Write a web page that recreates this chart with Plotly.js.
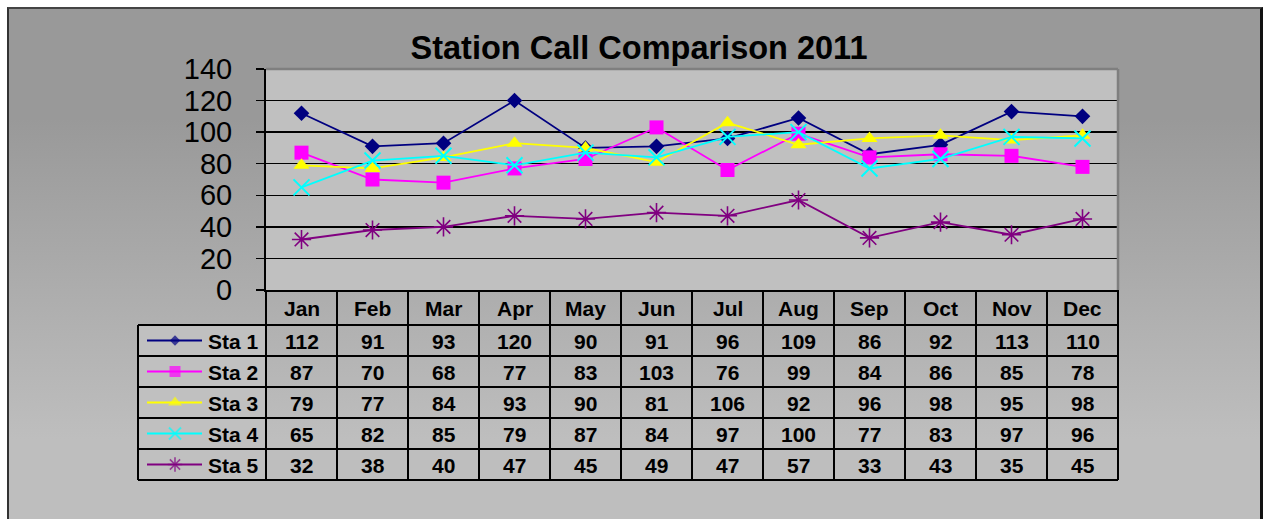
<!DOCTYPE html>
<html>
<head>
<meta charset="utf-8">
<script src="https://cdn.plot.ly/plotly-3.0.1.min.js"></script>
<style>
  html, body { margin: 0; padding: 0; background: #ffffff; }
  #wrap { position: relative; width: 1264px; height: 519px; overflow: hidden; background: #ffffff; }
  #frame { position: absolute; left: 7px; top: 7px; width: 1251px; height: 530px;
           border-left: 2px solid #333; border-top: 2px solid #444; border-right: 3px solid #111;
           background: linear-gradient(to bottom, #999999 0px, #999999 110px, #bebebe 430px, #bebebe 530px); }
  #chart { position: absolute; left: 0; top: 0; width: 1264px; height: 519px; }
</style>
</head>
<body>
<div id="wrap"><div id="frame"></div><div id="chart"></div></div>
<script>
const months = ["Jan","Feb","Mar","Apr","May","Jun","Jul","Aug","Sep","Oct","Nov","Dec"];
const seriesNames = ["Sta 1","Sta 2","Sta 3","Sta 4","Sta 5"];
const sta1 = [112, 91, 93, 120, 90, 91, 96, 109, 86, 92, 113, 110];
const sta2 = [87, 70, 68, 77, 83, 103, 76, 99, 84, 86, 85, 78];
const sta3 = [79, 77, 84, 93, 90, 81, 106, 92, 96, 98, 95, 98];
const sta4 = [65, 82, 85, 79, 87, 84, 97, 100, 77, 83, 97, 96];
const sta5 = [32, 38, 40, 47, 45, 49, 47, 57, 33, 43, 35, 45];
const yTicks = [0, 20, 40, 60, 80, 100, 120, 140];

const allSeries = [sta1, sta2, sta3, sta4, sta5];
const styles = [
  {color: "#000080", symbol: "diamond", size: 12, lsize: 8},
  {color: "#FF00FF", symbol: "square", size: 14, lsize: 11},
  {color: "#FFFF00", symbol: "triangle-up", size: 14, lsize: 12},
  {color: "#00FFFF", symbol: "x-thin-open", size: 16, lsize: 12, lw: 2},
  {color: "#800080", symbol: "asterisk-open", size: 16, lsize: 12, lw: 1.6}
];

// pixel geometry (layout only)
const W = 1264, H = 519;
const plotL = 266, plotR = 1118, plotT = 69, plotB = 290;
const headB = 325, rowH = 31, legL = 138;
const nRows = allSeries.length;
const tableB = headB + rowH * nRows;
const py = p => (H - p) / H;
const px = p => p / W;
const font = "'Liberation Sans', Arial, sans-serif";

const traces = [];
allSeries.forEach((vals, i) => {
  const st = styles[i];
  traces.push({
    type: "scatter", mode: "lines+markers", name: seriesNames[i],
    x: months, y: vals, xaxis: "x", yaxis: "y",
    line: {color: st.color, width: 1.8},
    marker: {color: st.color, symbol: st.symbol, size: st.size, line: {color: st.color, width: st.lw || 0}},
    cliponaxis: false, showlegend: false, hoverinfo: "skip"
  });
  // legend glyph in the data table
  const cy = headB + rowH * (i + 0.5);
  traces.push({
    type: "scatter", mode: "lines+markers", x: [147, 175, 202], y: [cy, cy, cy],
    xaxis: "x2", yaxis: "y2",
    line: {color: st.color, width: 1.8},
    marker: {color: st.color, symbol: st.symbol, size: [0, st.lsize, 0], line: {color: st.color, width: st.lw || 0}},
    showlegend: false, hoverinfo: "skip", cliponaxis: false
  });
});

const shapes = [];
const lineStyle = {color: "#000000", width: 2};
// plot area top/right border (grey)
shapes.push({type: "line", xref: "x domain", yref: "y domain", x0: 0, x1: 1, y0: 1, y1: 1, line: {color: "#7f7f7f", width: 2.5}});
shapes.push({type: "line", xref: "x domain", yref: "y domain", x0: 1, x1: 1, y0: 0, y1: 1, line: {color: "#7f7f7f", width: 2.5}});
// table column separators
for (let k = 0; k <= months.length; k++) {
  shapes.push({type: "line", xref: "x domain", yref: "paper", x0: k / months.length, x1: k / months.length,
    y0: py(plotB), y1: py(tableB), line: lineStyle});
}
// table row separators
for (let r = 0; r <= nRows; r++) {
  const yy = py(headB + rowH * r);
  shapes.push({type: "line", xref: "paper", yref: "paper", x0: px(legL), x1: px(plotR), y0: yy, y1: yy, line: lineStyle});
}
// legend column left edge
shapes.push({type: "line", xref: "paper", yref: "paper", x0: px(legL), x1: px(legL), y0: py(headB), y1: py(tableB), line: lineStyle});

const annotations = [];
const tfont = {family: font, size: 21, color: "#000000"};
months.forEach((m, j) => {
  annotations.push({xref: "x", yref: "paper", x: m, y: py((plotB + headB) / 2 + 1), text: "<b>" + m + "</b>",
    showarrow: false, font: tfont, xanchor: "center", yanchor: "middle"});
});
allSeries.forEach((vals, i) => {
  const cy = headB + rowH * (i + 0.5) + 1;
  annotations.push({xref: "paper", yref: "paper", x: px(206), y: py(cy), text: "<b>" + seriesNames[i] + "</b>",
    showarrow: false, font: tfont, xanchor: "left", yanchor: "middle"});
  vals.forEach((v, j) => {
    annotations.push({xref: "x", yref: "paper", x: months[j], y: py(cy), text: "<b>" + v + "</b>",
      showarrow: false, font: tfont, xanchor: "center", yanchor: "middle"});
  });
});

const layout = {
  width: W, height: H,
  margin: {l: 0, r: 0, t: 0, b: 0, pad: 0},
  paper_bgcolor: "rgba(0,0,0,0)",
  plot_bgcolor: "#c0c0c0",
  showlegend: false,
  title: {text: "Station Call Comparison 2011", font: {family: font, size: 32.5, color: "#000000", weight: "bold"},
    x: 639 / W, xanchor: "center", xref: "paper", y: py(48), yanchor: "middle", yref: "paper"},
  xaxis: {domain: [px(plotL), px(plotR)], type: "category", categoryarray: months, range: [-0.5, months.length - 0.5],
    showticklabels: false, ticks: "", showgrid: false, zeroline: false,
    showline: true, linecolor: "#000000", linewidth: 2, fixedrange: true},
  yaxis: {domain: [py(plotB), py(plotT)], range: [0, 140], tickvals: yTicks, ticktext: yTicks.map(String),
    ticks: "outside", ticklen: 8, tickwidth: 1.5, tickcolor: "#000000",
    tickfont: {family: font, size: 29, color: "#000000"}, ticklabelstandoff: 18,
    showgrid: true, gridcolor: "#000000", gridwidth: 1.5, zeroline: false,
    showline: true, linecolor: "#000000", linewidth: 2, fixedrange: true},
  xaxis2: {domain: [px(legL), px(plotL)], range: [legL, plotL], visible: false, fixedrange: true, anchor: "y2"},
  yaxis2: {domain: [py(tableB), py(headB)], range: [tableB, headB], visible: false, fixedrange: true, anchor: "x2"},
  shapes: shapes,
  annotations: annotations
};

Plotly.newPlot("chart", traces, layout, {displayModeBar: false, staticPlot: true});
</script>
</body>
</html>
